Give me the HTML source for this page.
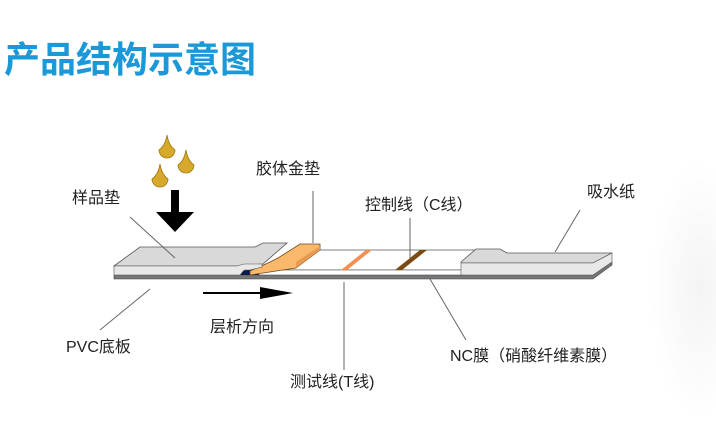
<!DOCTYPE html>
<html><head><meta charset="utf-8"><style>
html,body{margin:0;padding:0;width:716px;height:448px;overflow:hidden;background:#fff}
svg text{font-family:"Liberation Sans","Noto Sans CJK SC",sans-serif}
</style></head><body>
<svg width="716" height="448" viewBox="0 0 716 448" xmlns="http://www.w3.org/2000/svg">
<defs><radialGradient id="bg" cx="0.5" cy="0.5" r="0.5"><stop offset="0" stop-color="#f4f4f4"/><stop offset="1" stop-color="#fff"/></radialGradient></defs>
<ellipse cx="700" cy="290" rx="50" ry="130" fill="url(#bg)"/>
<text x="4" y="72" font-size="36" font-weight="bold" fill="#1a98d8" style="font-family:'Noto Sans CJK SC',sans-serif">产品结构示意图</text>
<!-- drops -->
<g fill="#d6a92c" stroke="#a07a10" stroke-width="0.8">
<path d="M167,135 Q165,146 159,150 A8,8 0 1 0 175,150 Q169,146 167,135Z"/>
<path d="M186,150 Q184,161 178,165 A8,8 0 1 0 194,165 Q188,161 186,150Z"/>
<path d="M160,164 Q158,175 152,179 A8,8 0 1 0 168,179 Q162,175 160,164Z"/>
</g>
<!-- down arrow -->
<rect x="171" y="190" width="8" height="24" fill="#000"/>
<polygon points="156,212 194,212 175,232" fill="#000"/>
<!-- base -->
<polygon points="114,275 593,275 612,262 612,265 593,279 114,279" fill="#777" stroke="#444" stroke-width="0.6"/>
<!-- membrane -->
<polygon points="284,270 300,250 480,250 473,270" fill="#fff" stroke="#555" stroke-width="0.8"/>
<rect x="245" y="270" width="228" height="5" fill="#fff" stroke="#555" stroke-width="0.6"/>
<path d="M240,275 Q244,268 252,270 L260,275Z" fill="#0a1a4a"/>
<path d="M470,275 Q474,268 480,268 L480,275Z" fill="#0a1a4a"/>
<!-- T and C lines -->
<polygon points="341,270 347,270 372,250 366,250" fill="#f39050"/>
<polygon points="395,270 402,270 427,250 420,250" fill="#7a4a10"/>
<!-- gold pad -->
<polygon points="250,271 268,263 278,258 300,244 320,244 320,250 296,268 250,275" fill="#f9b86a" stroke="#6b4a20" stroke-width="0.8"/>
<polygon points="296,268 320,250 320,246 296,262" fill="#e89a50"/>
<!-- sample pad -->
<polygon points="114,266 140,247 255,247 263,243 287,243 263,264 237,266" fill="#d9d9d9" stroke="#555" stroke-width="0.8"/>
<polygon points="114,266 237,266 244,264 262,264 262,267 250,270 244,270 240,275 114,275" fill="#e8e8e8" stroke="#555" stroke-width="0.6"/>
<!-- absorbent pad -->
<polygon points="461,262 476,249 500,249 507,253 612,253 593,263 461,263" fill="#d9d9d9" stroke="#555" stroke-width="0.8"/>
<polygon points="461,263 593,263 612,253 612,262 593,275 461,275" fill="#e8e8e8" stroke="#555" stroke-width="0.6"/>
<!-- flow arrow -->
<line x1="203" y1="293" x2="265" y2="293" stroke="#000" stroke-width="2"/>
<polygon points="260,287 293,293 260,299" fill="#000"/>
<!-- leaders -->
<g stroke="#666" stroke-width="1" fill="none">
<line x1="130" y1="217" x2="175" y2="258"/>
<line x1="313" y1="191" x2="313" y2="243"/>
<line x1="410" y1="218" x2="410" y2="258"/>
<line x1="580" y1="210" x2="555" y2="252"/>
<line x1="150" y1="289" x2="100" y2="330"/>
<line x1="344" y1="282" x2="344" y2="370"/>
<line x1="430" y1="279" x2="466" y2="340"/>
</g>
<g font-size="16" fill="#222">
<text x="72" y="203">样品垫</text>
<text x="256" y="174">胶体金垫</text>
<text x="365" y="210">控制线（C线）</text>
<text x="587" y="197">吸水纸</text>
<text x="66" y="352">PVC底板</text>
<text x="210" y="332">层析方向</text>
<text x="450" y="361">NC膜（硝酸纤维素膜）</text>
<text x="290" y="387">测试线(T线)</text>
</g>
</svg>
</body></html>
